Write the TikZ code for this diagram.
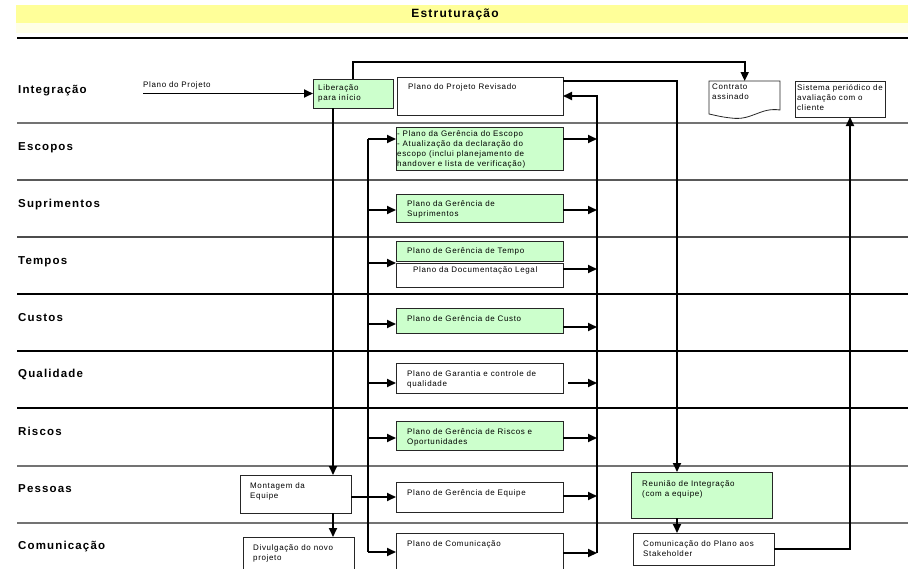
\documentclass[tikz,border=0pt]{standalone}
\usepackage{fontspec}
\usepackage{tikz}
\usetikzlibrary{positioning,calc,arrows.meta}
\setmainfont{Liberation Sans}
\newfontfamily\lanefont[LetterSpace=10]{Liberation Sans}
\newfontfamily\boxfont[LetterSpace=8]{Liberation Sans}
\definecolor{BandYellow}{RGB}{255,255,153}
\definecolor{PaleYellow}{RGB}{255,255,230}
\definecolor{BoxGreen}{RGB}{204,255,204}
\tikzset{
    arr/.style={line width=1.8pt, -{Triangle[length=9pt,width=8pt]}},
    link/.style={line width=1.8pt},
    sep/.style={line width=1.6pt}
}
\begin{document}
\begin{tikzpicture}[
        x=1pt, y=-1pt,
        % --- ESTILOS ---
        lane/.style={font=\lanefont\bfseries\fontsize{11.5}{13}\selectfont, anchor=base west, inner sep=0pt},
        titlefont/.style={font=\lanefont\bfseries\fontsize{12}{14}\selectfont, inner sep=0pt},
        box/.style={draw=black!85, line width=0.8pt, fill=white, anchor=north west, inner sep=0pt, outer sep=0pt},
        gbox/.style={box, fill=BoxGreen},
        txt/.style={font=\boxfont\fontsize{8}{10}\selectfont, anchor=north west, align=left, inner sep=0pt}
    ]
        \clip (0,0) rectangle (908,568);

        % --- CABECALHO ---
        \fill[BandYellow] (16,5) rectangle (908,23);
        \fill[PaleYellow] (16,23) rectangle (908,33);
        \node[titlefont] (titulo) at (455,14) {Estruturação};
        \draw[line width=2.8pt] (17,38) -- (908,38);

        % --- FAIXAS ---
        \foreach \y/\c in {123/black!55, 180/black!65, 237/black!70, 294/black, 351/black, 408/black, 466/black!55, 523/black!55}
            \draw[sep, draw=\c] (17,\y) -- (908,\y);
        \foreach \t/\y [count=\i] in {Integração/93, Escopos/150, Suprimentos/207, Tempos/264, Custos/321, Qualidade/377, Riscos/435, Pessoas/492, Comunicação/549}
            \node[lane] (lane\i) at (18,\y) {\t};

        % --- INTEGRACAO ---
        \node[gbox, minimum width=80, minimum height=29] (lib) at (313,79) {};
        \node[txt] (libT) at ([shift={(5,5)}]lib.north west) {Liberação\\para início};
        \node[box, minimum width=166, minimum height=38] (rev) at (397,77) {};
        \node[txt] (revT) at ([shift={(11,6)}]rev.north west) {Plano do Projeto Revisado};
        \node[anchor=north west, inner sep=0pt, minimum width=71, minimum height=37] (con) at (709,81) {};
        \draw[draw=black!85, line width=0.8pt, fill=white] (709,81) -- (780,81) -- (780,110)
            .. controls (760,107) and (752,121) .. (731,118)
            .. controls (721,117) and (714,115) .. (709,114) -- cycle;
        \node[txt] (conT) at ([shift={(3,3)}]con.north west) {Contrato\\assinado};
        \node[box, minimum width=90, minimum height=36] (sis) at (795,81) {};
        \node[txt] (sisT) at ([shift={(2,3)}]sis.north west) {Sistema periódico de\\avaliação com o\\cliente};

        % --- PLANOS ---
        \node[gbox, minimum width=167, minimum height=43] (esc) at (396,127) {};
        \node[txt] (escT) at ([shift={(1,3)}]esc.north west) {- Plano da Gerência do Escopo\\- Atualização da declaração do\\escopo (inclui planejamento de\\handover e lista de verificação)};
        \node[gbox, minimum width=167, minimum height=28] (sup) at (396,194) {};
        \node[txt] (supT) at ([shift={(11,6)}]sup.north west) {Plano da Gerência de\\Suprimentos};
        \node[gbox, minimum width=167, minimum height=20] (tem) at (396,241) {};
        \node[txt] (temT) at ([shift={(11,6)}]tem.north west) {Plano de Gerência de Tempo};
        \node[box, minimum width=167, minimum height=24] (doc) at (396,263) {};
        \node[txt] (docT) at ([shift={(17,3)}]doc.north west) {Plano da Documentação Legal};
        \node[gbox, minimum width=167, minimum height=25] (cus) at (396,308) {};
        \node[txt] (cusT) at ([shift={(11,7)}]cus.north west) {Plano de Gerência de Custo};
        \node[box, minimum width=167, minimum height=30] (gar) at (396,363) {};
        \node[txt] (garT) at ([shift={(11,7)}]gar.north west) {Plano de Garantia e controle de\\qualidade};
        \node[gbox, minimum width=167, minimum height=29] (ris) at (396,421) {};
        \node[txt] (risT) at ([shift={(11,7)}]ris.north west) {Plano de Gerência de Riscos e\\Oportunidades};
        \node[box, minimum width=167, minimum height=30] (equ) at (396,482) {};
        \node[txt] (equT) at ([shift={(11,7)}]equ.north west) {Plano de Gerência de Equipe};
        \node[box, minimum width=167, minimum height=45] (com) at (396,533) {};
        \node[txt] (comT) at ([shift={(11,7)}]com.north west) {Plano de Comunicação};

        % --- PESSOAS / COMUNICACAO ---
        \node[box, minimum width=111, minimum height=38] (mont) at (240,475) {};
        \node[txt] (montT) at ([shift={(10,7)}]mont.north west) {Montagem da\\Equipe};
        \node[box, minimum width=111, minimum height=40] (div) at (243,537) {};
        \node[txt] (divT) at ([shift={(10,7)}]div.north west) {Divulgação do novo\\projeto};
        \node[gbox, minimum width=141, minimum height=46] (reu) at (631,472) {};
        \node[txt] (reuT) at ([shift={(11,8)}]reu.north west) {Reunião de Integração\\(com a equipe)};
        \node[box, minimum width=141, minimum height=32] (stk) at (633,533) {};
        \node[txt] (stkT) at ([shift={(10,7)}]stk.north west) {Comunicação do Plano aos\\Stakeholder};

        % --- LIGACOES ---
        \coordinate (pp) at (143,93.5);
        \coordinate (colA) at (333,0);
        \coordinate (colL) at (368,0);
        \coordinate (colR) at (597,0);
        \coordinate (colM) at (677,0);
        \coordinate (colS) at (850,0);

        \draw[arr] (pp) -- (lib.west);
        \node[txt, anchor=base west] (ppT) at ([shift={(0,-6)}]pp) {Plano do Projeto};
        \draw[arr] (lib.north) |- (con.north |- 0,62) -- (con.north);
        \draw[arr] (colA |- lib.south) -- (colA |- mont.north);
        \draw[arr] (colA |- mont.south) -- (colA |- div.north);
        \draw[arr] (mont.east |- equ.west) -- (equ.west);

        % distribuicao (esquerda)
        \draw[link] (colL |- 0,139) -- (colL |- 0,552);
        \foreach \b/\y in {esc/139, sup/210, doc/263, cus/324, gar/383, ris/438, com/552}
            \draw[arr] (colL |- 0,\y) -- (\b.west |- 0,\y);

        % coleta (direita)
        \draw[arr] (colR |- 0,553) -- (colR |- rev.east) -- (rev.east);
        \foreach \b/\y in {esc/139, sup/210, doc/269, cus/327, ris/438, equ/496, com/553}
            \draw[arr] (\b.east |- 0,\y) -- (colR |- 0,\y);
        \draw[arr] ([xshift=5pt]gar.east |- 0,383) -- (colR |- 0,383);

        \draw[arr] (rev.east |- 0,81) -| (colM |- reu.north);
        \draw[arr] (colM |- reu.south) -- (colM |- stk.north);
        \draw[arr] (stk.east) -| (colS |- sis.south);

    \end{tikzpicture}
\end{document}
